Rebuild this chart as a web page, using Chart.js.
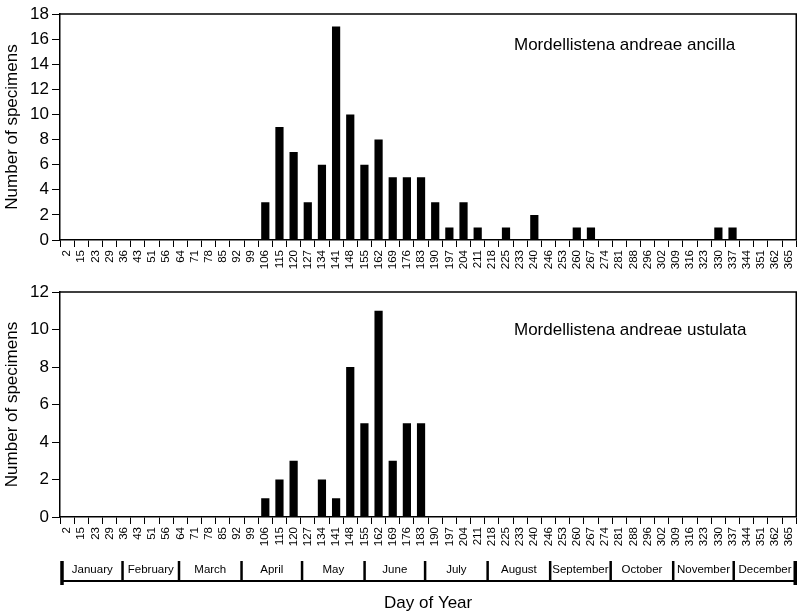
<!DOCTYPE html>
<html>
<head>
<meta charset="utf-8">
<script src="https://cdn.jsdelivr.net/npm/chart.js@4.4.1/dist/chart.umd.min.js"></script>
<style>
  html, body { margin: 0; padding: 0; background: #fff; }
  #wrap { position: relative; width: 806px; height: 612px; }
  .box { position: absolute; left: 0; width: 806px; }
  #top { top: 0; height: 290px; }
  #bot { top: 270px; height: 342px; }
</style>
</head>
<body>
<div id="wrap">
  <div class="box" id="top"><canvas id="c1"></canvas></div>
  <div class="box" id="bot"><canvas id="c2"></canvas></div>
</div>
<script>
// ---- data
const days = ['2','15','23','29','36','43','51','56','64','71','78','85','92','99',
  '106','115','120','127','134','141','148','155','162','169','176','183','190','197',
  '204','211','218','225','233','240','246','253','260','267','274','281','288','296',
  '302','309','316','323','330','337','344','351','362','365'];

const ancilla = [0,0,0,0,0,0,0,0,0,0,0,0,0,0,
  3,9,7,3,6,17,10,6,8,5,5,5,3,1,3,1,0,1,0,2,0,0,1,1,
  0,0,0,0,0,0,0,0,
  1,1,
  0,0,0,0];

const ustulata = [0,0,0,0,0,0,0,0,0,0,0,0,0,0,
  1,2,3,0,2,1,8,5,11,3,5,5,
  0,0,0,0,0,0,0,0,0,0,0,0,0,0,0,0,0,0,0,0,0,0,0,0,0,0];

const speciesNames = ['Mordellistena andreae ancilla', 'Mordellistena andreae ustulata'];
const yTicksMax = [18, 12];
const monthNames = ['January','February','March','April','May','June','July','August',
  'September','October','November','December'];
const monthStartDays = [0,31,59,90,120,151,181,212,243,273,304,334,365];
const yTitle = 'Number of specimens';
const xTitle = 'Day of Year';

const FONT = "'Liberation Sans', Arial, Helvetica, sans-serif";
Chart.defaults.font.family = FONT;
Chart.defaults.color = '#000';

// ---- small plugins
function frameAndLabel(text, dy) {
  return {
    id: 'frameAndLabel',
    afterDraw(chart) {
      const ctx = chart.ctx, a = chart.chartArea;
      ctx.save();
      ctx.strokeStyle = '#000';
      ctx.lineWidth = 1.5;
      ctx.beginPath();
      ctx.moveTo(a.left, a.top);
      ctx.lineTo(a.right, a.top);
      ctx.lineTo(a.right, a.bottom);
      ctx.stroke();
      ctx.fillStyle = '#000';
      ctx.font = '17px ' + FONT;
      ctx.textAlign = 'left';
      ctx.textBaseline = 'middle';
      ctx.fillText(text, a.left + 454, a.top + dy);
      ctx.restore();
    }
  };
}

// month strip under the day axis, placed along the x scale by day of year
const monthBand = {
  id: 'monthBand',
  afterDraw(chart) {
    const ctx = chart.ctx, xs = chart.scales.x;
    const yearLen = monthStartDays[monthStartDays.length - 1];
    const px = d => xs.getPixelForDecimal(d / yearLen);
    const top = xs.top + 44, bot = top + 20;
    const x0 = px(monthStartDays[0]) + 2;
    const x1 = px(yearLen);
    ctx.save();
    ctx.strokeStyle = '#000';
    ctx.fillStyle = '#000';
    ctx.lineWidth = 2;
    ctx.beginPath();
    ctx.moveTo(x0, bot);
    ctx.lineTo(x1, bot);
    ctx.stroke();
    ctx.font = '11.5px ' + FONT;
    ctx.textAlign = 'center';
    ctx.textBaseline = 'middle';
    for (let i = 0; i < monthNames.length; i++) {
      const a = i === 0 ? x0 : px(monthStartDays[i]);
      const b = px(monthStartDays[i + 1]);
      ctx.fillText(monthNames[i], (a + b) / 2, top + 8.5);
      if (i > 0) {
        ctx.lineWidth = 2.5;
        ctx.beginPath();
        ctx.moveTo(a, top);
        ctx.lineTo(a, bot);
        ctx.stroke();
      }
    }
    ctx.lineWidth = 3.5;
    ctx.beginPath();
    ctx.moveTo(x0, top);
    ctx.lineTo(x0, bot + 4);
    ctx.moveTo(x1 - 1, top);
    ctx.lineTo(x1 - 1, bot + 4);
    ctx.stroke();
    ctx.restore();
  }
};

// ---- chart builder
function makeChart(id, values, yMax, name, dy, padTop, xHeight, bottom) {
  const plugins = [frameAndLabel(name, dy)];
  if (bottom) plugins.push(monthBand);
  return new Chart(document.getElementById(id), {
    type: 'bar',
    data: {
      labels: days,
      datasets: [{
        data: values,
        backgroundColor: '#000',
        borderWidth: 0,
        barPercentage: 0.58,
        categoryPercentage: 1
      }]
    },
    options: {
      responsive: true,
      maintainAspectRatio: false,
      animation: false,
      layout: { padding: { top: padTop, right: 3, left: 0, bottom: 0 } },
      plugins: { legend: { display: false }, tooltip: { enabled: false } },
      scales: {
        x: {
          type: 'category',
          offset: true,
          grid: { offset: true, drawOnChartArea: false, color: '#000', tickLength: 7, lineWidth: 1 },
          border: { color: '#000', width: 1.5 },
          ticks: { font: { size: 11.5 }, minRotation: 90, maxRotation: 90, autoSkip: false, padding: 3, color: '#000' },
          title: { display: bottom, text: xTitle, font: { size: 17, lineHeight: 1 }, padding: { top: 0, bottom: 0 }, color: '#000' },
          afterFit: s => { s.height = xHeight; }
        },
        y: {
          min: 0,
          max: yMax,
          ticks: { stepSize: 2, font: { size: 17 }, padding: 3, color: '#000' },
          grid: { drawOnChartArea: false, color: '#000', tickLength: 8 },
          border: { color: '#000', width: 1.5 },
          title: { display: true, text: yTitle, font: { size: 17 }, padding: { top: 2, bottom: 0 }, color: '#000' },
          afterFit: s => { s.width = 60; }
        }
      }
    },
    plugins: plugins
  });
}

makeChart('c1', ancilla, yTicksMax[0], speciesNames[0], 31, 14, 50, false);
makeChart('c2', ustulata, yTicksMax[1], speciesNames[1], 38, 22, 95, true);
</script>
</body>
</html>
